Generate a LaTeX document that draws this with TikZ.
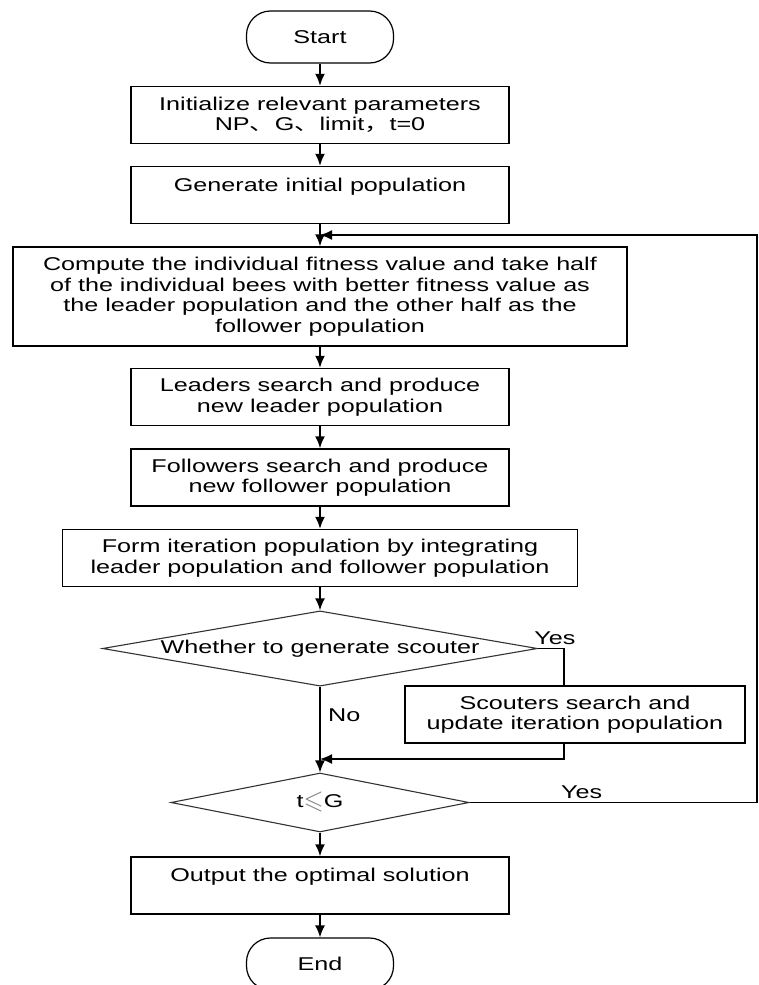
\documentclass[tikz,border=0pt]{standalone}
\usepackage{amssymb}
\usepackage{fontspec}
\setmainfont{Liberation Sans}[FakeStretch=1.36]
\newfontfamily\cjk{Noto Sans CJK SC}[FakeStretch=1.36]
\usetikzlibrary{shapes.geometric,arrows.meta}
\begin{document}
\begin{tikzpicture}[x=1pt,y=-1pt,>={Latex[length=12pt,width=10pt]},
  every node/.style={font=\fontsize{18.5}{20.5}\selectfont},
  box/.style={draw,line width=1.5pt,minimum width=378pt,minimum height=57pt,align=center,inner sep=2pt},
  term/.style={draw,line width=1.2pt,rounded corners=24pt,minimum width=147pt,minimum height=52pt},
  dec/.style={draw,diamond,line width=1.1pt,draw=black!80,inner sep=0pt,aspect=5.5},
  line/.style={line width=1.6pt}]
\useasboundingbox (0,0) rectangle (758,985);

\node[term] (start) at (320,37) {Start};
\node[box] (init) at (320,115) {Initialize relevant parameters\\NP{\cjk 、}G{\cjk 、}limit{\cjk ，}t=0};
\node[box] (gen) at (320,195) {Generate initial population\\\mbox{}};
\node[box,minimum width=614pt,minimum height=99pt] (comp) at (320,296.5) {Compute the individual fitness value and take half\\of the individual bees with better fitness value as\\the leader population and the other half as the\\follower population};
\node[box] (lead) at (320,397) {Leaders search and produce\\new leader population};
\node[box] (foll) at (320,477.5) {Followers search and produce\\new follower population};
\node[box,minimum width=515pt] (form) at (320,558) {Form iteration population by integrating\\leader population and follower population};
\node[dec,minimum width=435pt,minimum height=75pt] (scq) at (320,648.5) {Whether to generate scouter};
\node[box,minimum width=340pt] (scout) at (575,714.5) {Scouters search and\\update iteration population};
\node[dec,minimum width=298pt,minimum height=59pt] (tq) at (320,802.5) {t{\color{gray}\raisebox{-1pt}{\scalebox{1.4}{$\leqslant$}}}G};
\node[box] (out) at (320,885.5) {Output the optimal solution\\\mbox{}};
\node[term] (end) at (320,964) {End};

\coordinate (j1) at (320,235);
\coordinate (j2) at (320,759);
\coordinate (yt) at (564,648.5);
\coordinate (rt) at (757,802.5);

\draw[line,->] (start) -- (init);
\draw[line,->] (init) -- (gen);
\draw[line,->] (gen) -- (comp);
\draw[line,->] (comp) -- (lead);
\draw[line,->] (lead) -- (foll);
\draw[line,->] (foll) -- (form);
\draw[line,->] (form) -- (scq);
\draw[line,->] (scq) -- node[right,pos=.33,xshift=4pt]{No} (tq);
\draw[line] (scq.east) -- node[above,pos=.65]{Yes} (yt) -- (yt |- scout.north);
\draw[line,->] (yt |- scout.south) |- (j2);
\draw[line,->] (tq.east) -- node[above,pos=.39]{Yes} (rt) |- (j1);
\draw[line,->] (tq) -- (out);
\draw[line,->] (out) -- (end);

\end{tikzpicture}
\end{document}
